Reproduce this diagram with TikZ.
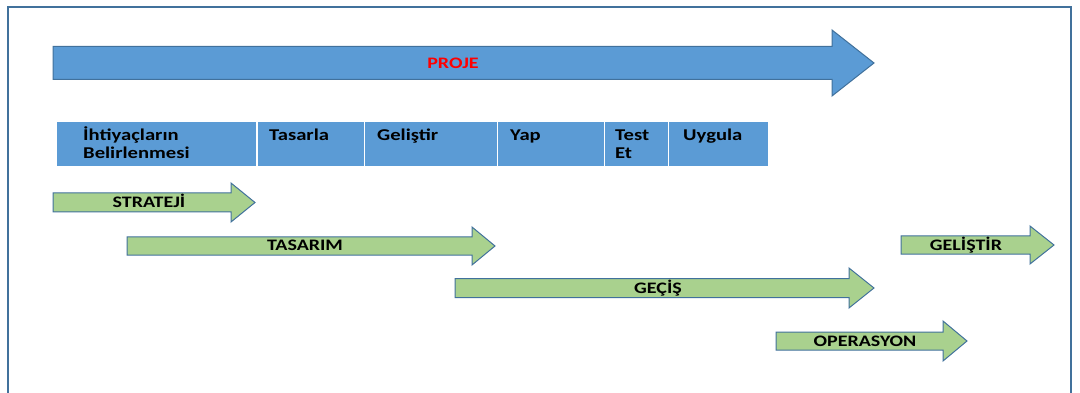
\documentclass[tikz,border=0pt]{standalone}
\usepackage{fontspec}
\setmainfont{Carlito}[FakeStretch=1.25]
\definecolor{boxblue}{HTML}{5B9BD5}
\definecolor{edgeblue}{HTML}{41719C}
\definecolor{phasegreen}{HTML}{A9D18E}
\definecolor{projred}{HTML}{FF0000}

% block arrow: style, start x, head base x, tip x, mid y, body half height, head half height
\newcommand\blockarrow[7]{%
  \draw[#1] (#2,#5-#6) -- (#3,#5-#6) -- (#3,#5-#7) -- (#4,#5)
    -- (#3,#5+#7) -- (#3,#5+#6) -- (#2,#5+#6) -- cycle;}

\begin{document}
\begin{tikzpicture}[x=1pt,y=-1pt,
  bluearrow/.style={fill=boxblue,draw=edgeblue,line width=1pt,line join=miter},
  greenarrow/.style={fill=phasegreen,draw=edgeblue,line width=1pt,line join=miter},
  cell/.style={rectangle,fill=boxblue,draw=white,line width=1pt,minimum height=45pt,inner sep=0pt},
  celltext/.style={anchor=base west,inner sep=0pt,font=\fontsize{16.5}{18}\selectfont\bfseries},
  phasetext/.style={anchor=base,inner sep=0pt,font=\fontsize{16}{18}\selectfont\bfseries},
  frameline/.style={draw=edgeblue,line width=1.2pt}]
\useasboundingbox (0,0) rectangle (1080,393);

% outer frame
\coordinate (fbl) at (8,395);
\coordinate (ftl) at (8,7);
\coordinate (ftr) at (1071,7);
\coordinate (fbr) at (1071,395);
\draw[frameline] (fbl) -- (ftl) -- (ftr) -- (fbr);

% project arrow
\blockarrow{bluearrow}{53}{832}{874}{63}{16.5}{33}
\node[phasetext,text=projred] (proje) at (453,69) {PROJE};

% activity cells
\node[cell,minimum width=200pt] (c1) at (156,144.5) {};
\node[cell,minimum width=107pt] (c2) at (310.5,144.5) {};
\node[cell,minimum width=133pt] (c3) at (430.5,144.5) {};
\node[cell,minimum width=107pt] (c4) at (550.5,144.5) {};
\node[cell,minimum width=64pt] (c5) at (636,144.5) {};
\node[cell,minimum width=100pt] (c6) at (718,144.5) {};

\node[celltext] (t1a) at (83,141) {İhtiyaçların};
\node[celltext] (t1b) at (83,159) {Belirlenmesi};
\node[celltext] (t2) at (269,141) {Tasarla};
\node[celltext] (t3) at (377,141) {Geliştir};
\node[celltext] (t4) at (510,141) {Yap};
\node[celltext] (t5a) at (615,141) {Test};
\node[celltext] (t5b) at (615,159) {Et};
\node[celltext] (t6) at (683,141) {Uygula};

% phase arrows
\blockarrow{greenarrow}{53}{231}{255}{202.5}{9.5}{19.5}
\node[phasetext] (strateji) at (149,207.5) {STRATEJİ};

\blockarrow{greenarrow}{127}{472}{495}{246}{9}{19}
\node[phasetext] (tasarim) at (305,251) {TASARIM};

\blockarrow{greenarrow}{455}{849}{874}{288}{9.5}{20}
\node[phasetext] (gecis) at (658,293) {GEÇİŞ};

\blockarrow{greenarrow}{776}{943}{967}{341}{9}{20}
\node[phasetext] (operasyon) at (865,346) {OPERASYON};

\blockarrow{greenarrow}{901}{1030}{1054}{245}{9}{19}
\node[phasetext] (gelistir) at (966,251) {GELİŞTİR};
\end{tikzpicture}
\end{document}
